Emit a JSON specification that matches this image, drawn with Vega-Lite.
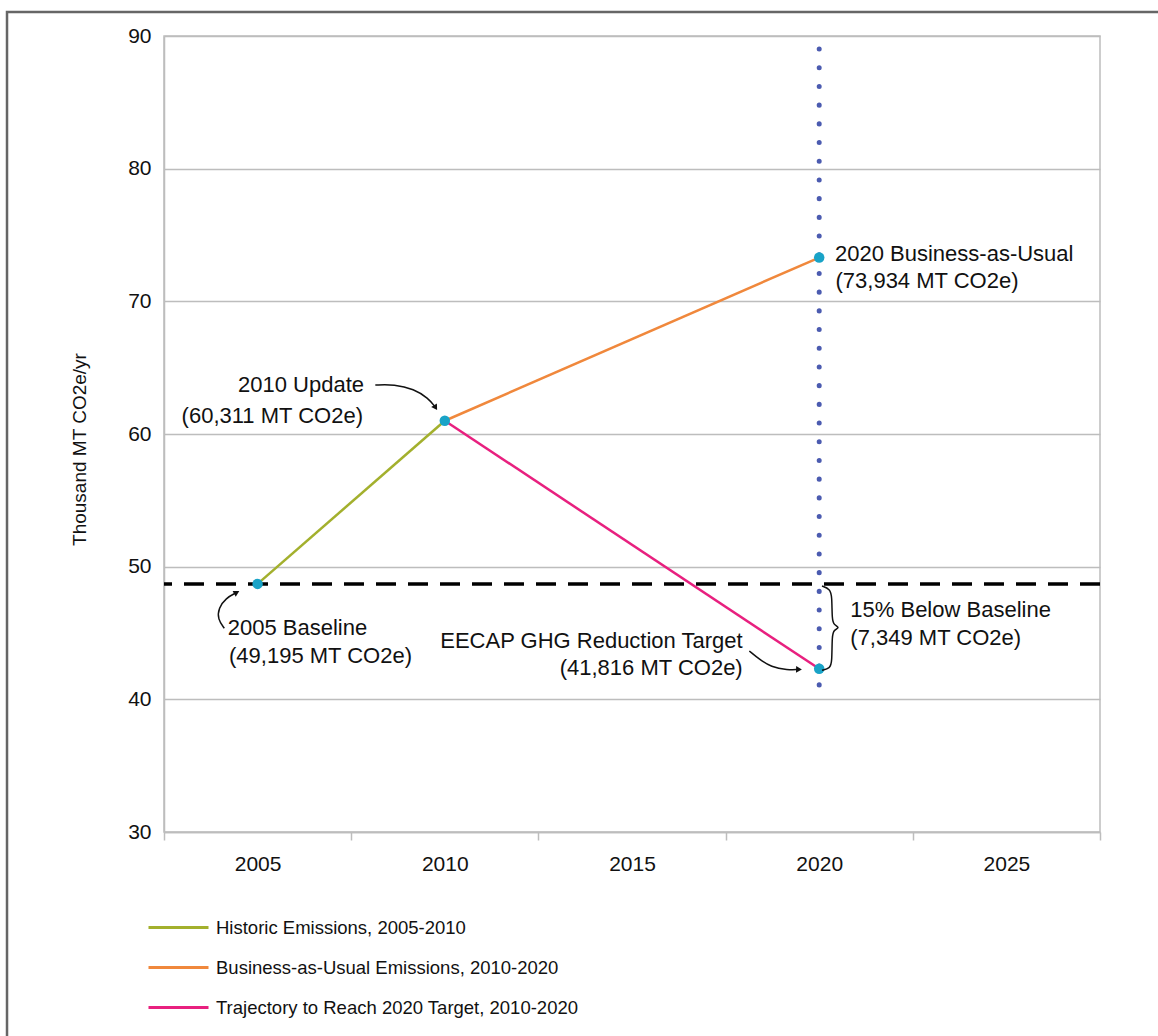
{
  "$schema": "https://vega.github.io/schema/vega-lite/v6.json",
  "width": 936,
  "height": 796,
  "padding": {"left": 5, "top": 10, "right": 0, "bottom": 0},
  "background": "white",
  "config": {
    "font": "Liberation Sans",
    "view": {"stroke": "#bdbdbd", "strokeWidth": 1.5}
  },
  "datasets": {
    "series": [
      {"series": "Historic Emissions, 2005-2010", "year": 2005, "value": 48.7},
      {"series": "Historic Emissions, 2005-2010", "year": 2010, "value": 61.0},
      {"series": "Business-as-Usual Emissions, 2010-2020", "year": 2010, "value": 61.0},
      {"series": "Business-as-Usual Emissions, 2010-2020", "year": 2020, "value": 73.3},
      {"series": "Trajectory to Reach 2020 Target, 2010-2020", "year": 2010, "value": 61.0},
      {"series": "Trajectory to Reach 2020 Target, 2010-2020", "year": 2020, "value": 42.3}
    ],
    "points": [
      {"label": "2005 Baseline", "year": 2005, "value": 48.7},
      {"label": "2010 Update", "year": 2010, "value": 61.0},
      {"label": "2020 Business-as-Usual", "year": 2020, "value": 73.3},
      {"label": "EECAP GHG Reduction Target", "year": 2020, "value": 42.3}
    ],
    "frame": [
      {"x1": 1998.307, "x2": 2029.3, "y1": 91.809, "y2": 13.8}
    ],
    "baseline": [{"value": 48.7}],
    "target_year": [{"year": 2020, "top": 89.02, "bottom": 41.08}],
    "arrows": [
      {"id": "a2010", "i": 0, "year": 2008.144, "value": 63.694},
      {"id": "a2010", "i": 1, "year": 2008.651, "value": 63.747},
      {"id": "a2010", "i": 2, "year": 2009.177, "value": 63.393},
      {"id": "a2010", "i": 3, "year": 2009.560, "value": 62.700},
      {"id": "a2010", "i": 4, "year": 2009.740, "value": 62.050},
      {"id": "a2005", "i": 0, "year": 2004.111, "value": 45.355},
      {"id": "a2005", "i": 1, "year": 2003.934, "value": 46.034},
      {"id": "a2005", "i": 2, "year": 2003.956, "value": 46.885},
      {"id": "a2005", "i": 3, "year": 2004.156, "value": 47.639},
      {"id": "a2005", "i": 4, "year": 2004.420, "value": 48.020},
      {"id": "a2020", "i": 0, "year": 2018.133, "value": 43.644},
      {"id": "a2020", "i": 1, "year": 2018.400, "value": 43.019},
      {"id": "a2020", "i": 2, "year": 2018.713, "value": 42.438},
      {"id": "a2020", "i": 3, "year": 2019.159, "value": 42.212},
      {"id": "a2020", "i": 4, "year": 2019.434, "value": 42.250}
    ],
    "heads": [
      {"id": "a2010", "year": 2009.740, "value": 62.050},
      {"id": "a2005", "year": 2004.420, "value": 48.020},
      {"id": "a2020", "year": 2019.434, "value": 42.250}
    ],
    "brace": [
      {"i": 0, "year": 2020.075, "value": 48.543},
      {"i": 1, "year": 2020.288, "value": 48.317},
      {"i": 2, "year": 2020.342, "value": 47.790},
      {"i": 3, "year": 2020.342, "value": 45.981},
      {"i": 4, "year": 2020.395, "value": 45.604},
      {"i": 5, "year": 2020.556, "value": 45.415},
      {"i": 6, "year": 2020.395, "value": 45.227},
      {"i": 7, "year": 2020.342, "value": 44.850},
      {"i": 8, "year": 2020.342, "value": 42.740},
      {"i": 9, "year": 2020.288, "value": 42.363},
      {"i": 10, "year": 2020.075, "value": 42.189}
    ],
    "labels_left": [
      {"text": "2020 Business-as-Usual", "year": 2020.422, "value": 73.545},
      {"text": "(73,934 MT CO2e)", "year": 2020.435, "value": 71.556},
      {"text": "2005 Baseline", "year": 2004.201, "value": 45.378},
      {"text": "(49,195 MT CO2e)", "year": 2004.236, "value": 43.267},
      {"text": "15% Below Baseline", "year": 2020.831, "value": 46.712},
      {"text": "(7,349 MT CO2e)", "year": 2020.831, "value": 44.602}
    ],
    "labels_right": [
      {"text": "2010 Update", "year": 2007.842, "value": 63.694},
      {"text": "(60,311 MT CO2e)", "year": 2007.815, "value": 61.357},
      {"text": "EECAP GHG Reduction Target", "year": 2017.957, "value": 44.398},
      {"text": "(41,816 MT CO2e)", "year": 2017.957, "value": 42.340}
    ]
  },
  "layer": [
    {
      "data": {"name": "frame"},
      "mark": {"type": "rect", "filled": false, "stroke": "#666666", "strokeWidth": 2.5, "clip": false},
      "encoding": {
        "x": {"field": "x1", "type": "quantitative", "scale": {"domain": [2002.5, 2027.5], "nice": false, "zero": false},
          "axis": {
            "values": [2002.5, 2007.5, 2012.5, 2017.5, 2022.5, 2027.5],
            "labelExpr": "datum.value < 2025 ? '' + (datum.value + 2.5) : ''",
            "labelOffset": 93.6,
            "grid": false,
            "tickSize": 8,
            "tickColor": "#bdbdbd",
            "tickWidth": 1.5,
            "domainColor": "#bdbdbd",
            "domainWidth": 1.5,
            "labelFontSize": 21,
            "labelColor": "#111111",
            "labelPadding": 13,
            "labelFlush": false,
            "labelOverlap": false,
            "title": null
          }
        },
        "x2": {"field": "x2"},
        "y": {"field": "y1", "type": "quantitative", "scale": {"domain": [30, 90], "nice": false, "zero": false},
          "axis": {
            "values": [30, 40, 50, 60, 70, 80, 90],
            "grid": true,
            "gridColor": "#bdbdbd",
            "gridWidth": 1.5,
            "tickSize": 0,
            "labelPadding": 13,
            "labelFontSize": 21,
            "labelColor": "#111111",
            "domainColor": "#bdbdbd",
            "domainWidth": 1.5,
            "title": "Thousand MT CO2e/yr",
            "titleFontSize": 19,
            "titleFontWeight": "normal",
            "titleColor": "#111111",
            "titlePadding": 38,
            "titleY": 413
          }
        },
        "y2": {"field": "y2"}
      }
    },
    {
      "data": {"name": "target_year"},
      "mark": {"type": "rule", "color": "#4b5bb0", "strokeWidth": 5, "strokeDash": [0.1, 18.6], "strokeCap": "round"},
      "encoding": {
        "x": {"field": "year", "type": "quantitative"},
        "y": {"field": "top", "type": "quantitative"},
        "y2": {"field": "bottom"}
      }
    },
    {
      "data": {"name": "baseline"},
      "mark": {"type": "rule", "color": "#000000", "strokeWidth": 3.5, "strokeDash": [20, 12]},
      "encoding": {
        "y": {"field": "value", "type": "quantitative"}
      }
    },
    {
      "data": {"name": "series"},
      "mark": {"type": "line", "strokeWidth": 2.5},
      "encoding": {
        "x": {"field": "year", "type": "quantitative"},
        "y": {"field": "value", "type": "quantitative"},
        "color": {
          "field": "series",
          "type": "nominal",
          "scale": {
            "domain": ["Historic Emissions, 2005-2010", "Business-as-Usual Emissions, 2010-2020", "Trajectory to Reach 2020 Target, 2010-2020"],
            "range": ["#a3b02d", "#f0883c", "#e8207f"]
          },
          "legend": {
            "title": null,
            "orient": "none",
            "legendX": 3,
            "legendY": 880,
            "direction": "vertical",
            "symbolType": "M-3,0H3",
            "symbolSize": 400,
            "symbolStrokeWidth": 3,
            "labelFontSize": 18.5,
            "labelColor": "#111111",
            "labelOffset": 26,
            "rowPadding": 19,
            "labelLimit": 600
          }
        }
      }
    },
    {
      "data": {"name": "points"},
      "mark": {"type": "point", "filled": true, "size": 110, "color": "#19a3c7", "opacity": 1},
      "encoding": {
        "x": {"field": "year", "type": "quantitative"},
        "y": {"field": "value", "type": "quantitative"}
      }
    },
    {
      "data": {"name": "arrows"},
      "mark": {"type": "line", "color": "#111111", "strokeWidth": 1.5, "interpolate": "basis"},
      "encoding": {
        "x": {"field": "year", "type": "quantitative"},
        "y": {"field": "value", "type": "quantitative"},
        "detail": {"field": "id"},
        "order": {"field": "i", "type": "quantitative"}
      }
    },
    {
      "data": {"name": "heads"},
      "transform": [{"filter": "datum.id == 'a2010'"}],
      "mark": {"type": "point", "shape": "triangle", "filled": true, "size": 45, "color": "#111111", "opacity": 1, "angle": 148},
      "encoding": {
        "x": {"field": "year", "type": "quantitative"},
        "y": {"field": "value", "type": "quantitative"}
      }
    },
    {
      "data": {"name": "heads"},
      "transform": [{"filter": "datum.id == 'a2005'"}],
      "mark": {"type": "point", "shape": "triangle", "filled": true, "size": 45, "color": "#111111", "opacity": 1, "angle": 62},
      "encoding": {
        "x": {"field": "year", "type": "quantitative"},
        "y": {"field": "value", "type": "quantitative"}
      }
    },
    {
      "data": {"name": "heads"},
      "transform": [{"filter": "datum.id == 'a2020'"}],
      "mark": {"type": "point", "shape": "triangle", "filled": true, "size": 45, "color": "#111111", "opacity": 1, "angle": 92},
      "encoding": {
        "x": {"field": "year", "type": "quantitative"},
        "y": {"field": "value", "type": "quantitative"}
      }
    },
    {
      "data": {"name": "brace"},
      "mark": {"type": "line", "color": "#111111", "strokeWidth": 1.5, "interpolate": "basis"},
      "encoding": {
        "x": {"field": "year", "type": "quantitative"},
        "y": {"field": "value", "type": "quantitative"},
        "order": {"field": "i", "type": "quantitative"}
      }
    },
    {
      "data": {"name": "labels_left"},
      "mark": {"type": "text", "align": "left", "baseline": "middle", "fontSize": 22, "color": "#111111"},
      "encoding": {
        "x": {"field": "year", "type": "quantitative"},
        "y": {"field": "value", "type": "quantitative"},
        "text": {"field": "text"}
      }
    },
    {
      "data": {"name": "labels_right"},
      "mark": {"type": "text", "align": "right", "baseline": "middle", "fontSize": 22, "color": "#111111"},
      "encoding": {
        "x": {"field": "year", "type": "quantitative"},
        "y": {"field": "value", "type": "quantitative"},
        "text": {"field": "text"}
      }
    }
  ]
}
